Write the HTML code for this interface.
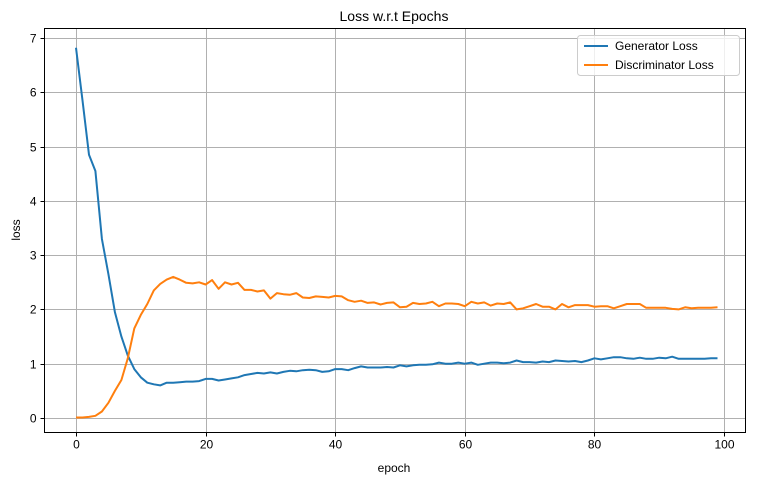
<!DOCTYPE html>
<html><head><meta charset="utf-8"><style>
body{margin:0;background:#fff;}
svg text{font-family:"Liberation Sans","DejaVu Sans",sans-serif;fill:#000;}
</style></head><body>
<svg id="chart" width="772" height="493" xmlns="http://www.w3.org/2000/svg">
<text x="394" y="21" font-size="14" text-anchor="middle">Loss w.r.t Epochs</text>
<g id="grid"></g><g id="ticks"></g><g id="lines"></g>
<rect x="44.5" y="28.5" width="701" height="404" fill="none" stroke="#000" stroke-width="1"/>
<text x="394" y="472" font-size="12" text-anchor="middle">epoch</text>
<text x="20" y="230" font-size="12" text-anchor="middle" transform="rotate(-90 20 230)">loss</text>
<g>
<rect x="577.5" y="35.5" width="162" height="40" rx="3" fill="#fff" fill-opacity="0.8" stroke="#ccc"/>
<line x1="584" y1="46" x2="608" y2="46" stroke="#1f77b4" stroke-width="2"/>
<text x="615" y="50" font-size="12">Generator Loss</text>
<line x1="584" y1="65" x2="608" y2="65" stroke="#ff7f0e" stroke-width="2"/>
<text x="615" y="69" font-size="12">Discriminator Loss</text>
</g>
</svg>
<script>
const xTicks=[0,20,40,60,80,100];
const yTicks=[0,1,2,3,4,5,6,7];
const genLoss=[6.82,5.85,4.85,4.55,3.3,2.65,1.95,1.5,1.15,0.9,0.75,0.65,0.62,0.6,0.65,0.65,0.66,0.67,0.67,0.68,0.72,0.72,0.69,0.71,0.73,0.75,0.79,0.81,0.83,0.82,0.84,0.82,0.85,0.87,0.86,0.88,0.89,0.88,0.85,0.86,0.9,0.9,0.88,0.92,0.95,0.93,0.93,0.93,0.94,0.93,0.97,0.95,0.97,0.98,0.98,0.99,1.02,1.0,1.0,1.02,1.0,1.02,0.98,1.0,1.02,1.02,1.01,1.02,1.06,1.03,1.03,1.02,1.04,1.03,1.06,1.05,1.04,1.05,1.03,1.06,1.1,1.08,1.1,1.12,1.12,1.1,1.09,1.11,1.09,1.09,1.11,1.1,1.13,1.09,1.09,1.09,1.09,1.09,1.1,1.1];
const discLoss=[0.01,0.01,0.02,0.04,0.12,0.28,0.5,0.7,1.1,1.65,1.9,2.1,2.35,2.47,2.55,2.6,2.55,2.49,2.48,2.5,2.46,2.54,2.38,2.5,2.46,2.49,2.36,2.36,2.33,2.35,2.2,2.3,2.28,2.27,2.3,2.22,2.21,2.24,2.23,2.22,2.25,2.24,2.17,2.14,2.16,2.12,2.13,2.09,2.12,2.13,2.04,2.05,2.12,2.1,2.11,2.14,2.06,2.11,2.11,2.1,2.06,2.14,2.11,2.13,2.07,2.11,2.1,2.13,2.0,2.02,2.06,2.1,2.05,2.05,2.0,2.1,2.04,2.08,2.08,2.08,2.05,2.06,2.06,2.02,2.06,2.1,2.1,2.1,2.03,2.03,2.03,2.03,2.01,2.0,2.04,2.02,2.03,2.03,2.03,2.04];
const NS='http://www.w3.org/2000/svg';
const L=44.5,R=745.5,T=28.5,B=432.5;
const xs=v=>76+(v-0)*(724-76)/100;
const ys=v=>418-v*(418-38)/7;
const grid=document.getElementById('grid'),ticks=document.getElementById('ticks'),lines=document.getElementById('lines');
function mk(tag,attrs,parent){const e=document.createElementNS(NS,tag);for(const k in attrs)e.setAttribute(k,attrs[k]);parent.appendChild(e);return e;}
xTicks.forEach(t=>{const x=Math.round(xs(t))+0.5;
 const g=mk('line',{x1:x,x2:x,y1:T,y2:B,stroke:'#b0b0b0','stroke-width':1},grid);
 
 
 mk('line',{x1:x,x2:x,y1:B,y2:B+4,stroke:'#000'},ticks);
 const tx=mk('text',{x:x,y:B+16,'font-size':12,'text-anchor':'middle'},ticks);tx.textContent=t;
 
 
});
yTicks.forEach(t=>{const y=Math.round(ys(t))+0.5;
 const g=mk('line',{x1:L,x2:R,y1:y,y2:y,stroke:'#b0b0b0','stroke-width':1},grid);
 
 
 mk('line',{x1:L-4,x2:L,y1:y,y2:y,stroke:'#000'},ticks);
 const tx=mk('text',{x:L-8,y:y+4,'font-size':12,'text-anchor':'end'},ticks);tx.textContent=t;
 
 
});
function series(arr,color,name){const d=arr.map((v,i)=>(i?'L':'M')+xs(i).toFixed(1)+','+ys(v).toFixed(1)).join('');
 const p=mk('path',{d:d,fill:'none',stroke:color,'stroke-width':2,'stroke-linejoin':'round'},lines);
 
 
}
series(genLoss,'#1f77b4','generator-loss-line');
series(discLoss,'#ff7f0e','discriminator-loss-line');
</script>
</body></html>
